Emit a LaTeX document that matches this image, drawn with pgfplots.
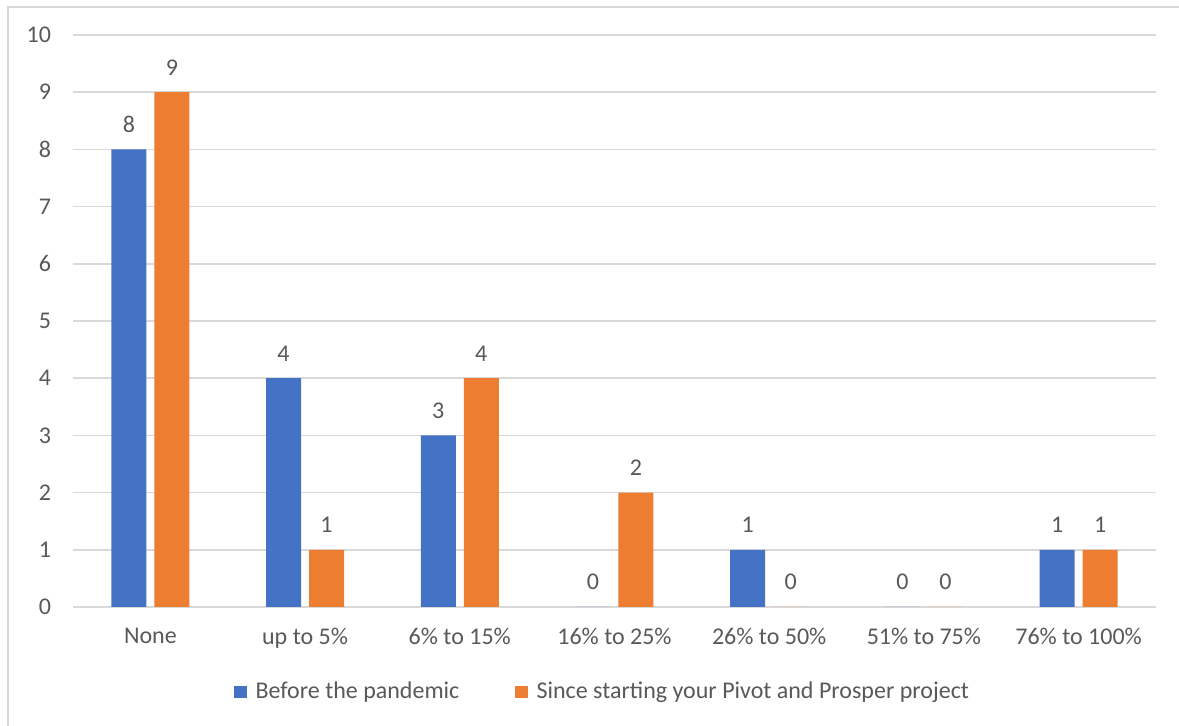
\documentclass[border=0pt]{standalone}
\usepackage{pgfplots}
\pgfplotsset{compat=1.18}
\usepackage{fontspec}
\setmainfont{Carlito}
\definecolor{bblue}{HTML}{4472C4}
\definecolor{borange}{HTML}{ED7D31}
\definecolor{txt}{HTML}{595959}
\definecolor{grd}{HTML}{D9D9D9}
\begin{document}
\begin{tikzpicture}
\path[use as bounding box] (-36.5pt,-59.5pt) rectangle (553pt,303.5pt);
\fill[white] (-36.5pt,-59.5pt) rectangle (553pt,303.5pt);
\draw[grd, line width=1pt] (-32.5pt,-59.5pt) -- (-32.5pt,300pt) -- (553pt,300pt);
\begin{axis}[
  at={(0,0)}, anchor=south west,
  scale only axis, width=541.5pt, height=286pt,
  xmin=-0.5, xmax=6.5, ymin=0, ymax=10,
  ytick={0,...,10},
  xtick=data,
  xticklabels={None, up to 5\%, 6\% to 15\%, 16\% to 25\%, 26\% to 50\%, 51\% to 75\%, 76\% to 100\%},
  axis line style={draw=none},
  axis x line*=bottom,
  major tick length=0pt,
  ymajorgrids, grid style={grd, line width=0.8pt},
  tick label style={font=\fontsize{12}{14}\selectfont, text=txt},
  /pgf/number format/assume math mode=true,
  yticklabel style={xshift=-7.5pt},
  xticklabel style={yshift=-7pt},
  ybar, bar width=17.5pt,
  nodes near coords,
  every node near coord/.append style={font=\fontsize{12}{14}\selectfont, text=txt, yshift=5pt},
  legend columns=2,
  legend style={at={(0.490,-0.1486)}, anchor=center, draw=none, fill=none,
    font=\fontsize{12}{14}\selectfont, text=txt,
    /tikz/every even column/.append style={column sep=26pt}},
  legend image code/.code={\fill[#1] (0pt,-3.1pt) rectangle (6.2pt,3.1pt); \path (8.6pt,0pt);},
  clip=false,
]
\draw[grd, line width=1pt] (axis cs:-0.5,0) -- (axis cs:6.5,0);
\addplot[fill=bblue, draw=none, bar shift=-10.75pt] coordinates {(0,8) (1,4) (2,3) (3,0) (4,1) (5,0) (6,1)};
\addlegendentry{Before the pandemic}
\addplot[fill=borange, draw=none, bar shift=10.75pt] coordinates {(0,9) (1,1) (2,4) (3,2) (4,0) (5,0) (6,1)};
\addlegendentry{Since starting your Pivot and Prosper project}
\end{axis}
\end{tikzpicture}
\end{document}
